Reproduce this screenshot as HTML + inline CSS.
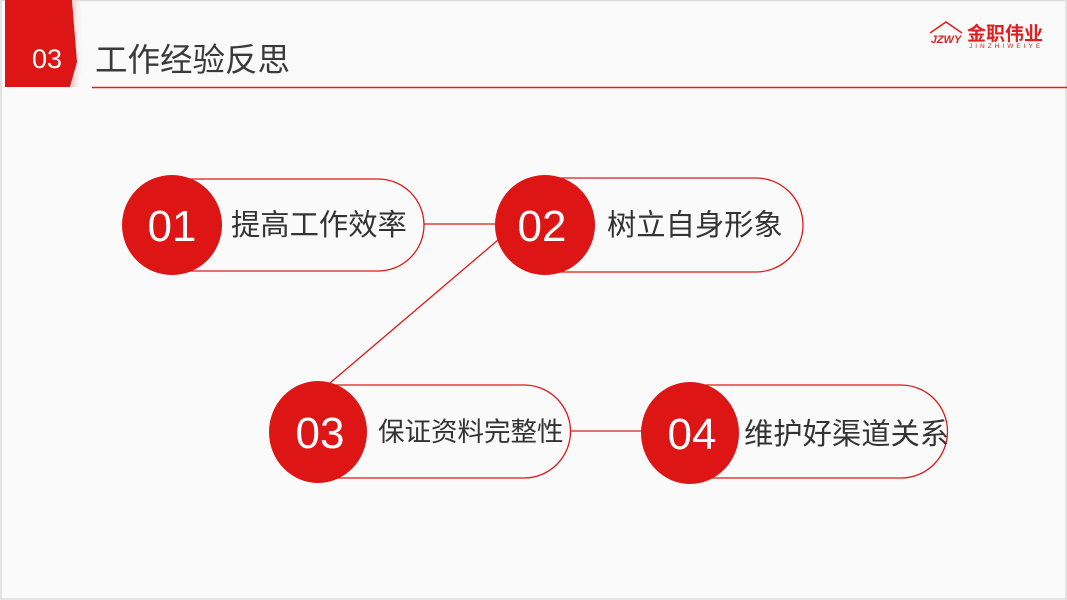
<!DOCTYPE html>
<html><head><meta charset="utf-8">
<style>
html,body{margin:0;padding:0;background:#fafafa;}
svg{display:block;}
text{font-family:"Liberation Sans","Noto Sans CJK SC",sans-serif;}
</style></head>
<body>
<svg width="1067" height="600" viewBox="0 0 1067 600" xmlns="http://www.w3.org/2000/svg">
<rect x="0" y="0" width="1067" height="600" fill="#fafafa"/>
<rect x="1" y="0.5" width="1065" height="598.5" fill="none" stroke="#dcdcdc" stroke-width="1.5"/>
<defs><linearGradient id="sh" x1="0" x2="1"><stop offset="0" stop-color="#f4c0c0"/><stop offset="1" stop-color="#fafafa" stop-opacity="0"/></linearGradient></defs>
<polygon points="73,0 80,0 84,62 78,87 71,87 77,62" fill="url(#sh)"/>
<polygon points="5,0 72,0 77,62 70,87 5,87" fill="#dd1515"/>
<text x="47" y="68" font-size="27" fill="#fff" text-anchor="middle">03</text>
<text x="95" y="71" font-size="32.5" fill="#3a3a3a">工作经验反思</text>
<line x1="92" y1="87.5" x2="1067" y2="87.5" stroke="#e02020" stroke-width="1.5"/>
<g fill="none" stroke="#e02020" stroke-width="1.6">
<polyline points="930,33 946,22 962,33"/>
</g>
<text x="946" y="43" font-size="11" font-weight="bold" fill="#e02020" text-anchor="middle" font-style="italic">JZWY</text>
<text x="967" y="40" font-size="19" font-weight="bold" fill="#e02020">金职伟业</text>
<text x="969" y="48" font-size="6.5" fill="#e02020" letter-spacing="3">JINZHIWEIYE</text>
<g stroke="#dd1a1a" stroke-width="1.3">
<line x1="424" y1="224" x2="496" y2="224"/>
<line x1="570" y1="431" x2="642" y2="431"/>
<line x1="498" y1="240" x2="330" y2="383"/>
</g>
<g fill="#fafafa" stroke="#dd1a1a" stroke-width="1.3">
<path d="M172,179 H378 A46,46 0 0 1 378,271 H172 Z"/>
<path d="M545,178 H756 A47,47 0 0 1 756,272 H545 Z"/>
<path d="M318,385 H524 A46.5,46.5 0 0 1 524,478 H318 Z"/>
<path d="M690,385 H901 A46.5,46.5 0 0 1 901,478 H690 Z"/>
</g>
<g fill="#dd1515">
<circle cx="172" cy="225" r="50"/>
<circle cx="545" cy="225" r="50"/>
<ellipse cx="318" cy="432" rx="49" ry="51"/>
<ellipse cx="690" cy="433" rx="49" ry="51"/>
</g>
<g fill="#fff" font-size="44" text-anchor="middle">
<text x="172" y="241">01</text>
<text x="542" y="241">02</text>
<text x="320" y="448">03</text>
<text x="692" y="449">04</text>
</g>
<g fill="#333" font-size="29.3">
<text x="231" y="235">提高工作效率</text>
<text x="607" y="235">树立自身形象</text>
<text x="378" y="441" font-size="26.5">保证资料完整性</text>
<text x="744" y="444">维护好渠道关系</text>
</g>
</svg>
</body></html>
